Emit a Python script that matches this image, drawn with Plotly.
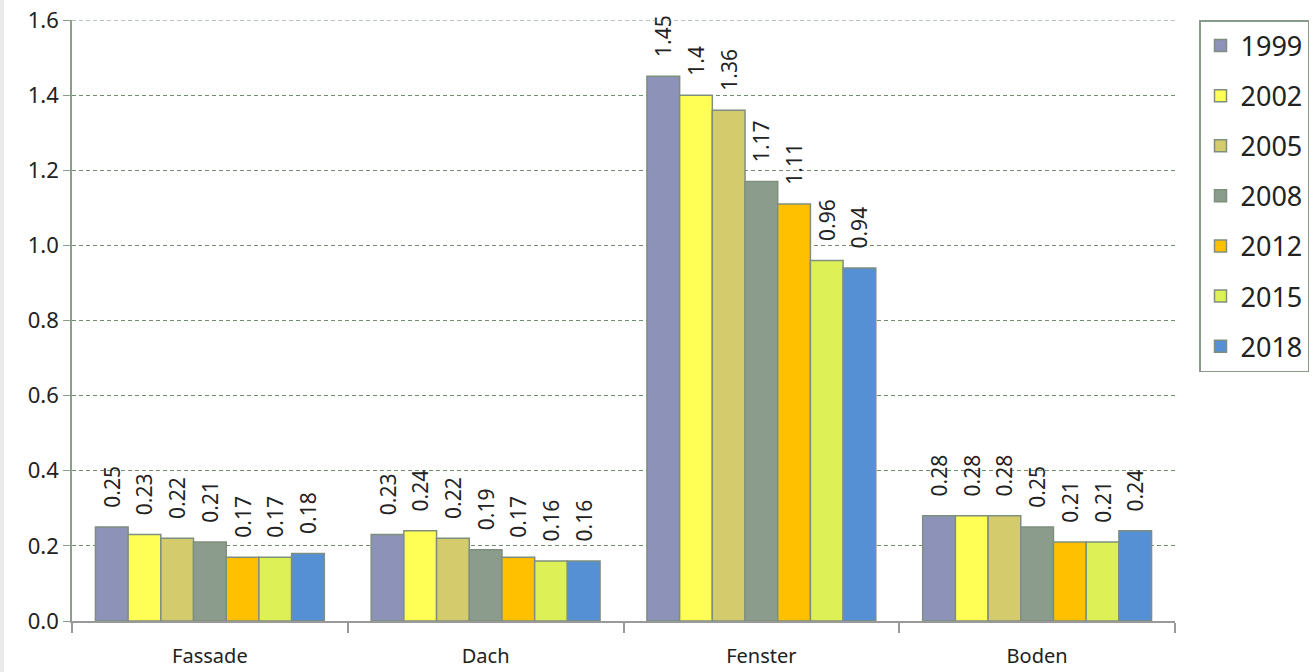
import plotly.graph_objects as go

categories = ["Fassade", "Dach", "Fenster", "Boden"]
years = ["1999", "2002", "2005", "2008", "2012", "2015", "2018"]
values = {
    "1999": [0.25, 0.23, 1.45, 0.28],
    "2002": [0.23, 0.24, 1.4, 0.28],
    "2005": [0.22, 0.22, 1.36, 0.28],
    "2008": [0.21, 0.19, 1.17, 0.25],
    "2012": [0.17, 0.17, 1.11, 0.21],
    "2015": [0.17, 0.16, 0.96, 0.21],
    "2018": [0.18, 0.16, 0.94, 0.24],
}
colors = ["#8c92b8", "#ffff55", "#d4cc6c", "#8c9c8c", "#ffc000", "#ddf055", "#5590d4"]

W, H = 1316, 672
L, R, T, B = 72, 141, 20, 51
pw = W - L - R
ph = H - T - B

fig = go.Figure()
for y, c in zip(years, colors):
    vals = values[y]
    fig.add_trace(go.Bar(
        name=y, x=categories, y=vals, legendgroup=y,
        marker=dict(color=c, line=dict(color="#7f8f7f", width=1.5)),
        text=["\u00a0\u00a0\u00a0" + ("%g" % v) for v in vals], textposition="outside",
        textangle=-90, constraintext="none", cliponaxis=False,
        outsidetextfont=dict(size=21, color="#222222", family="Noto Sans"),
    ))

fig.update_layout(
    width=W, height=H, barmode="group", bargap=0.17, bargroupgap=0,
    plot_bgcolor="white", paper_bgcolor="white",
    margin=dict(l=L, r=R, t=T, b=B, autoexpand=False),
    font=dict(family="Noto Sans", size=22, color="#222222"),
    legend=dict(x=(1199 - L) / pw, xanchor="left", y=1.0, yanchor="top",
                bordercolor="#8a9a8a", borderwidth=1.5, bgcolor="white",
                font=dict(size=27), tracegroupgap=12,
                entrywidth=140, entrywidthmode="pixels"),
    shapes=[
        dict(type="line", xref="paper", yref="y", x0=0, x1=1, y0=1.6, y1=1.6,
             line=dict(color="#6f8f6f", width=1, dash="4px,3px")),
        dict(type="rect", xref="paper", yref="paper", layer="below",
             x0=-L / pw, x1=(4 - L) / pw, y0=-B / ph, y1=1 + T / ph,
             fillcolor="#ebebeb", line=dict(width=0)),
    ],
)
fig.update_yaxes(range=[0, 1.6], dtick=0.2, tickformat=".1f",
                 showline=True, linecolor="#8aa08a", linewidth=1.5,
                 ticks="outside", ticklen=7, tickcolor="#8aa08a",
                 showgrid=True, gridcolor="#6f8f6f", griddash="4px,3px", gridwidth=1,
                 zeroline=False, tickfont=dict(size=22), ticklabeloverflow="allow")
fig.update_xaxes(showline=True, linecolor="#999999", linewidth=2,
                 ticks="outside", tickson="boundaries", ticklen=10, tickcolor="#999999",
                 tickwidth=2, ticklabelstandoff=16, tickfont=dict(size=20),
                 ticklabeloverflow="allow")

fig.write_html("out.html", config={"displayModeBar": False},
               post_script="document.body.style.margin='0';")
